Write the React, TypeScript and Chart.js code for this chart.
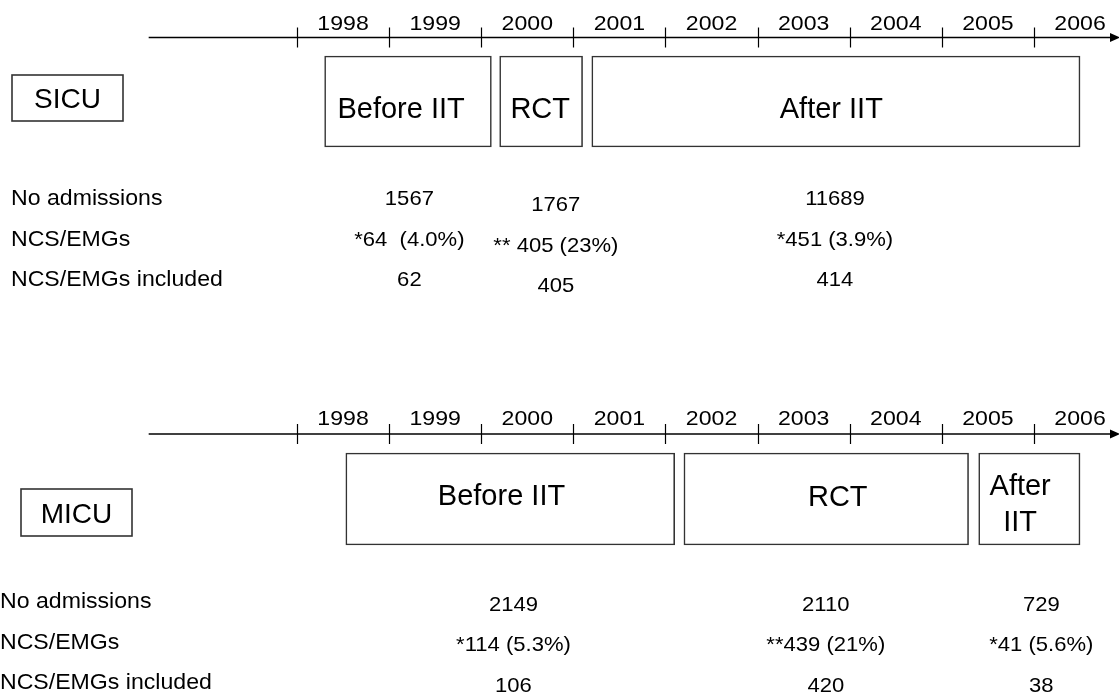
import React, { useEffect, useRef } from 'react';
import { Chart, registerables } from 'chart.js';

Chart.register(...registerables);

// ---------- data ----------
const years = [1998, 1999, 2000, 2001, 2002, 2003, 2004, 2005, 2006];
const rowLabels = ['No admissions', 'NCS/EMGs', 'NCS/EMGs included'];

const sicuUnit = 'SICU';
const sicuPhases = ['Before IIT', 'RCT', 'After IIT'];
const sicuStart = [1998.3, 2000.2, 2001.2];
const sicuEnd = [2000.11, 2001.1, 2006.5];
const sicuPhaseLabelYear = [1999.13, 2000.64, 2003.8];
const sicuValueYear = [1999.22, 2000.81, 2003.84];
const sicuAdmissions = ['1567', '1767', '11689'];
const sicuNcsEmgs = ['*64  (4.0%)', '** 405 (23%)', '*451 (3.9%)'];
const sicuIncluded = ['62', '405', '414'];

const micuUnit = 'MICU';
const micuPhases = ['Before IIT', 'RCT', 'After\nIIT'];
const micuStart = [1998.53, 2002.2, 2005.4];
const micuEnd = [2002.1, 2005.29, 2006.5];
const micuPhaseLabelYear = [2000.22, 2003.87, 2005.85];
const micuValueYear = [2000.35, 2003.74, 2006.08];
const micuAdmissions = ['2149', '2110', '729'];
const micuNcsEmgs = ['*114 (5.3%)', '**439 (21%)', '*41 (5.6%)'];
const micuIncluded = ['106', '420', '38'];

// ---------- layout (pixels on the y scale, which runs 0..692 top-down) ----------
const FONT = '"Liberation Sans", Arial, Helvetica, sans-serif';
const X_MIN = 1994.776;
const X_MAX = 2006.923;
const AXIS_START_YEAR = 1996.39;

const LAYOUT = {
  sicu: {
    axisY: 37.5,
    yearY: 22,
    unitBox: [12, 123, 75, 121],
    unitY: 97.5,
    boxY: 101.5,
    boxH: 91,
    phaseY: [108, 108, 107.5],
    rowLabelX: 11,
    rowLabelY: [197, 238, 278],
    valueY: [197, 238, 278],
    columnDy: [0, 6, 0],
  },
  micu: {
    axisY: 434,
    yearY: 417,
    unitBox: [21, 132, 489, 536],
    unitY: 513,
    boxY: 499,
    boxH: 92,
    phaseY: [495, 495.5, 485],
    rowLabelX: 0,
    rowLabelY: [600, 641, 681],
    valueY: [603, 643, 684],
    columnDy: [0, 0, 0],
  },
};

function text(ctx: CanvasRenderingContext2D, s: string, x: number, capCenterY: number, size: number, align: CanvasTextAlign, stretch = 1) {
  ctx.save();
  ctx.font = `${size}px ${FONT}`;
  ctx.textAlign = align;
  ctx.textBaseline = 'alphabetic';
  ctx.fillStyle = '#000';
  ctx.translate(x, capCenterY + 0.358 * size);
  ctx.scale(stretch, 1);
  ctx.fillText(s, 0, 0);
  ctx.restore();
}

const diagramPlugin = {
  id: 'timelineDiagram',
  afterDatasetsDraw(chart: any) {
    const ctx: CanvasRenderingContext2D = chart.ctx;
    const xs = chart.scales.x;
    const ys = chart.scales.y;
    const right = chart.chartArea.right;

    const panels = [
      { L: LAYOUT.sicu, unit: sicuUnit, phases: sicuPhases, labelYear: sicuPhaseLabelYear, valueYear: sicuValueYear, rows: [sicuAdmissions, sicuNcsEmgs, sicuIncluded] },
      { L: LAYOUT.micu, unit: micuUnit, phases: micuPhases, labelYear: micuPhaseLabelYear, valueYear: micuValueYear, rows: [micuAdmissions, micuNcsEmgs, micuIncluded] },
    ];

    panels.forEach(({ L, unit, phases, labelYear, valueYear, rows }) => {
      const ay = ys.getPixelForValue(L.axisY);
      // axis line
      ctx.save();
      ctx.strokeStyle = '#000';
      ctx.lineWidth = 1.3;
      ctx.beginPath();
      ctx.moveTo(xs.getPixelForValue(AXIS_START_YEAR), ay);
      ctx.lineTo(right - 6, ay);
      ctx.stroke();
      // arrow head
      ctx.fillStyle = '#000';
      ctx.beginPath();
      ctx.moveTo(right + 1, ay);
      ctx.lineTo(right - 9, ay - 4.5);
      ctx.lineTo(right - 9, ay + 4.5);
      ctx.closePath();
      ctx.fill();
      // ticks
      ctx.lineWidth = 1.2;
      years.forEach((yr) => {
        const px = Math.round(xs.getPixelForValue(yr)) + 0.5;
        ctx.beginPath();
        ctx.moveTo(px, ay - 10);
        ctx.lineTo(px, ay + 10);
        ctx.stroke();
      });
      ctx.restore();
      // year labels
      years.forEach((yr) => {
        text(ctx, String(yr), xs.getPixelForValue(yr + 0.5), ys.getPixelForValue(L.yearY), 21, 'center', 1.1);
      });

      // unit box
      const [bx0, bx1, by0, by1] = L.unitBox;
      ctx.save();
      ctx.strokeStyle = '#333';
      ctx.lineWidth = 1.6;
      ctx.strokeRect(bx0, ys.getPixelForValue(by0), bx1 - bx0, ys.getPixelForValue(by1) - ys.getPixelForValue(by0));
      ctx.restore();
      text(ctx, unit, (bx0 + bx1) / 2, ys.getPixelForValue(L.unitY), 28, 'center');

      // phase labels
      phases.forEach((p, i) => {
        const lines = p.split('\n');
        lines.forEach((ln, j) => {
          text(ctx, ln, xs.getPixelForValue(labelYear[i]), ys.getPixelForValue(L.phaseY[i] + j * 35.5), 29, 'center');
        });
      });

      // row labels and values
      rowLabels.forEach((lab, r) => {
        text(ctx, lab, L.rowLabelX, ys.getPixelForValue(L.rowLabelY[r]), 22, 'left', 1.05);
        rows[r].forEach((v, c) => {
          text(ctx, v, xs.getPixelForValue(valueYear[c]), ys.getPixelForValue(L.valueY[r] + L.columnDy[c]), 21, 'center', 1.05);
        });
      });
    });
  },
};

export default function App() {
  const ref = useRef<HTMLCanvasElement | null>(null);

  useEffect(() => {
    if (!ref.current) return;
    const boxStyle = {
      backgroundColor: '#ffffff',
      borderColor: '#333333',
      borderWidth: 1.6,
      borderSkipped: false as const,
      grouped: false,
    };
    const chart = new Chart(ref.current, {
      type: 'bar',
      data: {
        datasets: [
          {
            label: sicuUnit,
            data: sicuStart.map((s, i) => ({ x: [s, sicuEnd[i]], y: LAYOUT.sicu.boxY })) as any,
            barThickness: LAYOUT.sicu.boxH,
            ...boxStyle,
          },
          {
            label: micuUnit,
            data: micuStart.map((s, i) => ({ x: [s, micuEnd[i]], y: LAYOUT.micu.boxY })) as any,
            barThickness: LAYOUT.micu.boxH,
            ...boxStyle,
          },
        ],
      },
      options: {
        indexAxis: 'y',
        animation: false,
        responsive: false,
        devicePixelRatio: 1,
        layout: { padding: 0 },
        plugins: { legend: { display: false }, tooltip: { enabled: false }, title: { display: false } },
        events: [],
        scales: {
          x: { type: 'linear', min: X_MIN, max: X_MAX, display: false, offset: false, grace: 0 },
          y: { type: 'linear', min: 0, max: 692, reverse: true, display: false, offset: false, grace: 0 },
        },
      } as any,
      plugins: [diagramPlugin],
    });
    return () => chart.destroy();
  }, []);

  return (
    <div style={{ position: 'absolute', left: 0, top: 0, width: 1119, height: 692, background: '#fff' }}>
      <canvas ref={ref} width={1119} height={692} style={{ display: 'block' }} />
    </div>
  );
}
